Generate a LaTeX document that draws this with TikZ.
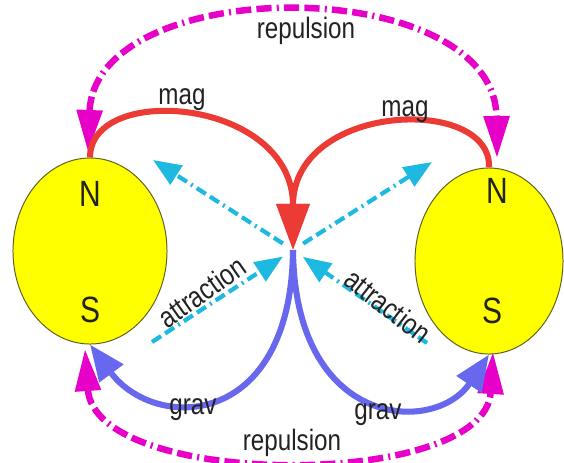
\documentclass[tikz,border=0pt]{standalone}
\usepackage{fontspec}
\newfontfamily\narrowsans[FakeStretch=0.82]{Liberation Sans}
\usetikzlibrary{shapes,arrows.meta,positioning}

\definecolor{magred}{RGB}{236,58,52}
\definecolor{repmagenta}{RGB}{230,0,200}
\definecolor{gravblue}{RGB}{104,104,238}
\definecolor{attrcyan}{RGB}{30,185,225}
\definecolor{bodyyellow}{RGB}{255,255,0}
\definecolor{bodyedge}{RGB}{95,95,40}
\definecolor{labelgray}{RGB}{34,34,34}

\begin{document}
\begin{tikzpicture}[
    x=0.025cm, y=-0.025cm,
    body/.style={ellipse, draw=bodyedge, line width=0.7pt, fill=bodyyellow, minimum width=3.85cm, minimum height=4.65cm, inner sep=0pt},
    pole/.style={font=\narrowsans\fontsize{26}{30}\selectfont, text=labelgray, inner sep=0pt},
    forcelabel/.style={font=\narrowsans\fontsize{21}{24}\selectfont, text=labelgray, inner sep=0pt},
    magline/.style={draw=magred, line width=4.3pt, -{Triangle[length=1.15cm,width=0.8cm]}},
    gravline/.style={draw=gravblue, line width=4.3pt, -{Triangle[length=0.9cm,width=0.72cm]}},
    repline/.style={draw=repmagenta, line width=4.6pt, dash pattern=on 0.38cm off 0.13cm on 0.38cm off 0.13cm on 0.05cm off 0.13cm, {Triangle[length=1.05cm,width=0.62cm]}-{Triangle[length=1.05cm,width=0.62cm]}},
    attrline/.style={draw=attrcyan, line width=3pt, dash pattern=on 0.27cm off 0.12cm on 0.27cm off 0.12cm on 0.05cm off 0.12cm, -{Triangle[length=0.7cm,width=0.55cm]}}
]
\useasboundingbox (0,0) rectangle (564,462);

% Two bodies with their poles
\node[body] (left_body) at (90,251) {};
\node[body, minimum width=3.7cm] (right_body) at (489,261) {};
\node[pole] (left_n) at (90,194) {N};
\node[pole] (left_s) at (90,310) {S};
\node[pole] (right_n) at (497,191) {N};
\node[pole] (right_s) at (492,311) {S};

% Meeting point and free ends
\coordinate (centre) at (293,250);
\coordinate (rep_top_l) at (88,152);
\coordinate (rep_top_r) at (497,158);
\coordinate (rep_bot_l) at (85,349);
\coordinate (rep_bot_r) at (493,352);
\coordinate (attr_ul) at (153,160);
\coordinate (attr_ur) at (432,162);
\coordinate (attr_ll) at (152,342);
\coordinate (attr_lr) at (427,343);

% Repulsion arcs
\draw[repline] (rep_top_l) .. controls (95,-28) and (495,-28) .. (rep_top_r);
\draw[repline] (rep_bot_l) .. controls (95,490) and (485,490) .. (rep_bot_r);

% Attraction
\draw[attrline, shorten <=0.3cm] (centre) -- (attr_ul);
\draw[attrline, shorten <=0.3cm] (centre) -- (attr_ur);
\draw[attrline, shorten >=0.3cm] (attr_ll) -- (centre);
\draw[attrline, shorten >=0.3cm] (attr_lr) -- (centre);

% Magnetic and gravity lines
\draw[magline] (left_body.north) .. controls (90,82) and (293,98) .. (centre);
\draw[magline] (right_body.north) .. controls (492,95) and (293,102) .. (centre);
\draw[gravline] (centre) .. controls (291,430) and (155,432) .. (left_body.south);
\draw[gravline] (centre) .. controls (295,430) and (435,435) .. (right_body.south);

% Labels
\node[forcelabel] (mag_l) at (182,100) {mag};
\node[forcelabel] (mag_r) at (405,112) {mag};
\node[forcelabel] (rep_top) at (306,31) {repulsion};
\node[forcelabel] (rep_bottom) at (292,443) {repulsion};
\node[forcelabel] (grav_l) at (193,410) {grav};
\node[forcelabel] (grav_r) at (378,415) {grav};
\node[forcelabel, rotate=35] (attr_l) at (202,292) {attraction};
\node[forcelabel, rotate=-38] (attr_r) at (388,306) {attraction};

\end{tikzpicture}
\end{document}
